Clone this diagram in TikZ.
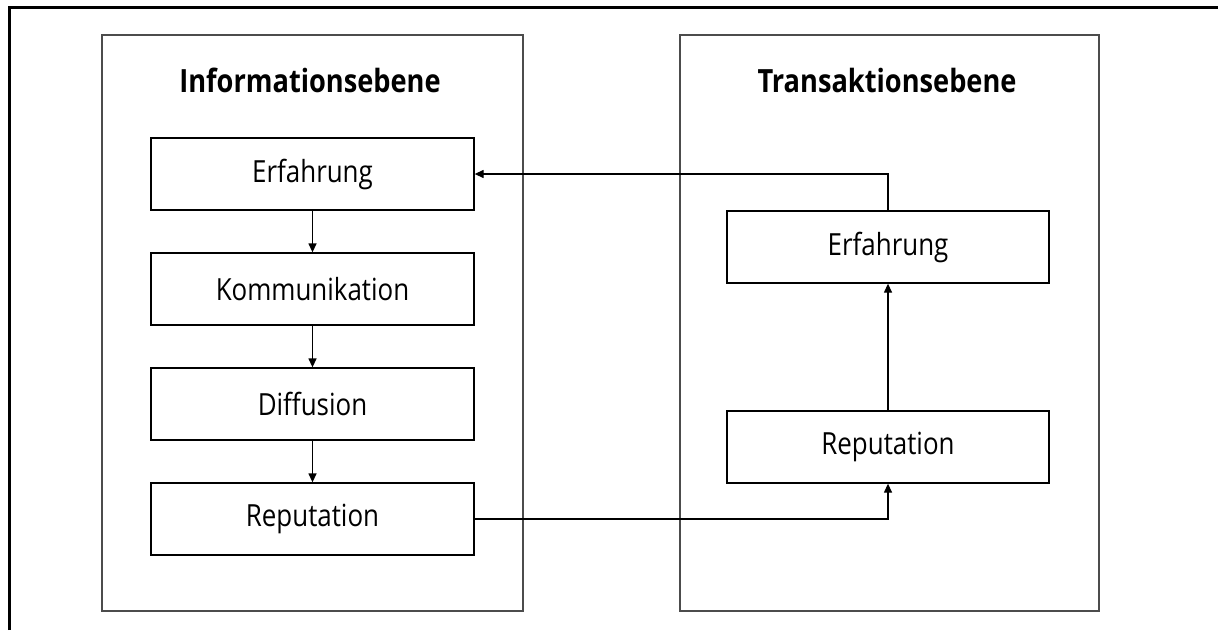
\documentclass[tikz,border=0pt]{standalone}
\usepackage{fontspec}
\setmainfont{Open Sans}[FakeStretch=0.85]
\usetikzlibrary{arrows.meta}

\begin{document}
\begin{tikzpicture}[x=1pt,y=-1pt,
    panel/.style={draw=black!70, line width=1.5pt, minimum height=576pt, anchor=north west, inner sep=0pt},
    stepbox/.style={draw=black, line width=1.3pt, minimum width=323pt, minimum height=72pt, inner sep=0pt,
      font=\fontsize{30.5}{36}\selectfont},
    heading/.style={font=\fontsize{32}{38}\selectfont\bfseries, inner sep=0pt},
    arr/.style={line width=1.3pt, -{Triangle[length=9pt,width=8pt]}}]
  \useasboundingbox (0,0) rectangle (1218,630);

  % outer frame (only the top and left edges fall inside the page)
  \draw[line width=3pt] (9,630) -- (9,7) -- (1218,7);

  % the two levels
  \node[panel, minimum width=421pt] (info) at (101,34) {};
  \node[panel, minimum width=419pt] (trans) at (679,34) {};

  \node[heading] (tinfo) at (310,80) {Informationsebene};
  \node[heading] (ttrans) at (887,80) {Transaktionsebene};

  % information level
  \node[stepbox] (erf1) at (312.5,174) {Erfahrung};
  \node[stepbox] (kom1) at (312.5,289) {Kommunikation};
  \node[stepbox] (dif1) at (312.5,404) {Diffusion};
  \node[stepbox] (rep1) at (312.5,519) {Reputation};

  % transaction level
  \node[stepbox, minimum width=322pt] (erf2) at (888,247) {Erfahrung};
  \node[stepbox, minimum width=322pt] (rep2) at (888,447) {Reputation};

  \draw[arr] (erf1) -- (kom1);
  \draw[arr] (kom1) -- (dif1);
  \draw[arr] (dif1) -- (rep1);
  \draw[arr] (rep1.east) -| (rep2.south);
  \draw[arr] (rep2) -- (erf2);
  \draw[arr] (erf2.north) |- (erf1.east);
\end{tikzpicture}
\end{document}
